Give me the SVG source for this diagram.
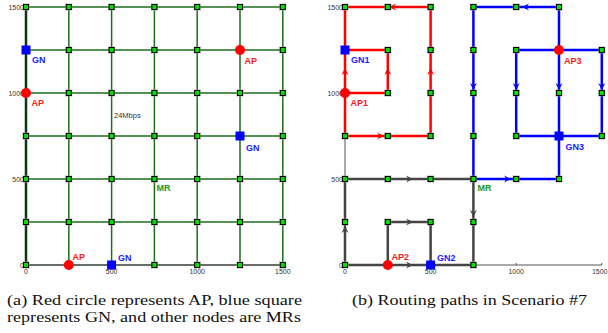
<svg xmlns="http://www.w3.org/2000/svg" xmlns:xlink="http://www.w3.org/1999/xlink" width="608" height="333" viewBox="0 0 608 333">
<style>
.grid{stroke:#1e6e1e;stroke-width:1.5;fill:none}
.axis{stroke:#555;stroke-width:1;fill:none}
.tick{font-family:"Liberation Sans",Arial,sans-serif;font-size:7px;fill:#333}
.lbl{font-family:"Liberation Sans",Arial,sans-serif;font-size:9px;font-weight:bold}
.ap{fill:#ff1a1a}.gn{fill:#1a1aff}.mr{fill:#229922}
.red{stroke:#ff0000;stroke-width:2.5;fill:none}
.blue{stroke:#0000ff;stroke-width:2.5;fill:none}
.gray{stroke:#444;stroke-width:2.5;fill:none}
.cap{font-family:"Liberation Serif","Times New Roman",serif;font-size:14px;fill:#111}
</style>
<defs>
<g id="n"><rect x="-3.5" y="-3.5" width="7" height="7" fill="#999" opacity="0.7"/><rect x="-2.5" y="-2.5" width="5" height="5" fill="#00e000" stroke="#000" stroke-width="1"/></g>
<rect id="sq" x="-4.5" y="-4.5" width="9" height="9" fill="#0000ff"/>
<circle id="ci" r="5" fill="#ff0000"/>
<path id="ar" d="M0,0 L-7,-3.5 L-4.5,0 L-7,3.5 Z"/>
</defs>

<!-- ============ LEFT PANEL ============ -->
<g id="left-grid">
<path class="grid" d="M26,7H282.8M26,50H282.8M26,93H282.8M26,136H282.8M26,179H282.8M26,222H282.8"/>
<path class="grid" d="M68.8,7V265M111.6,7V265M154.4,7V265M197.2,7V265M240,7V265M282.8,7V265"/>
<path d="M26,7V265" stroke="#123412" stroke-width="2.5"/>
<path d="M26,265H282.8" stroke="#7a857a" stroke-width="1.8"/>
<path class="axis" d="M26,265H282.8"/>
</g>
<g id="left-axis-labels" class="tick">
<text x="24" y="9.5" text-anchor="end">1500</text>
<text x="24" y="95.5" text-anchor="end">1000</text>
<text x="24" y="181.5" text-anchor="end">500</text>
<text x="24" y="267.5" text-anchor="end">0</text>
<text x="26" y="274" text-anchor="middle">0</text>
<text x="111.6" y="274" text-anchor="middle">500</text>
<text x="197.2" y="274" text-anchor="middle">1000</text>
<text x="282.8" y="274" text-anchor="middle">1500</text>
<text x="114" y="117.5" fill="#333" font-size="7.5">24Mbps</text>
</g>
<g id="left-nodes">
<g id="L00"><use xlink:href="#n" x="26" y="7"/></g>
<g id="L10"><use xlink:href="#n" x="68.8" y="7"/></g>
<g id="L20"><use xlink:href="#n" x="111.6" y="7"/></g>
<g id="L30"><use xlink:href="#n" x="154.4" y="7"/></g>
<g id="L40"><use xlink:href="#n" x="197.2" y="7"/></g>
<g id="L50"><use xlink:href="#n" x="240" y="7"/></g>
<g id="L60"><use xlink:href="#n" x="282.8" y="7"/></g>
<g id="L11"><use xlink:href="#n" x="68.8" y="50"/></g>
<g id="L21"><use xlink:href="#n" x="111.6" y="50"/></g>
<g id="L31"><use xlink:href="#n" x="154.4" y="50"/></g>
<g id="L41"><use xlink:href="#n" x="197.2" y="50"/></g>
<g id="L61"><use xlink:href="#n" x="282.8" y="50"/></g>
<g id="L12"><use xlink:href="#n" x="68.8" y="93"/></g>
<g id="L22"><use xlink:href="#n" x="111.6" y="93"/></g>
<g id="L32"><use xlink:href="#n" x="154.4" y="93"/></g>
<g id="L42"><use xlink:href="#n" x="197.2" y="93"/></g>
<g id="L52"><use xlink:href="#n" x="240" y="93"/></g>
<g id="L62"><use xlink:href="#n" x="282.8" y="93"/></g>
<g id="L03"><use xlink:href="#n" x="26" y="136"/></g>
<g id="L13"><use xlink:href="#n" x="68.8" y="136"/></g>
<g id="L23"><use xlink:href="#n" x="111.6" y="136"/></g>
<g id="L33"><use xlink:href="#n" x="154.4" y="136"/></g>
<g id="L43"><use xlink:href="#n" x="197.2" y="136"/></g>
<g id="L63"><use xlink:href="#n" x="282.8" y="136"/></g>
<g id="L04"><use xlink:href="#n" x="26" y="179"/></g>
<g id="L14"><use xlink:href="#n" x="68.8" y="179"/></g>
<g id="L24"><use xlink:href="#n" x="111.6" y="179"/></g>
<g id="L34"><use xlink:href="#n" x="154.4" y="179"/></g>
<g id="L44"><use xlink:href="#n" x="197.2" y="179"/></g>
<g id="L54"><use xlink:href="#n" x="240" y="179"/></g>
<g id="L64"><use xlink:href="#n" x="282.8" y="179"/></g>
<g id="L05"><use xlink:href="#n" x="26" y="222"/></g>
<g id="L15"><use xlink:href="#n" x="68.8" y="222"/></g>
<g id="L25"><use xlink:href="#n" x="111.6" y="222"/></g>
<g id="L35"><use xlink:href="#n" x="154.4" y="222"/></g>
<g id="L45"><use xlink:href="#n" x="197.2" y="222"/></g>
<g id="L55"><use xlink:href="#n" x="240" y="222"/></g>
<g id="L65"><use xlink:href="#n" x="282.8" y="222"/></g>
<g id="L06"><use xlink:href="#n" x="26" y="265"/></g>
<g id="L36"><use xlink:href="#n" x="154.4" y="265"/></g>
<g id="L46"><use xlink:href="#n" x="197.2" y="265"/></g>
<g id="L56"><use xlink:href="#n" x="240" y="265"/></g>
<g id="L66"><use xlink:href="#n" x="282.8" y="265"/></g>
<g id="L-GN-a"><use xlink:href="#sq" x="26" y="50"/><text class="lbl gn" x="32" y="63">GN</text></g>
<g id="L-AP-a"><use xlink:href="#ci" x="26" y="93"/><text class="lbl ap" x="31.5" y="106">AP</text></g>
<g id="L-AP-b"><use xlink:href="#ci" x="240" y="50"/><text class="lbl ap" x="244.5" y="64">AP</text></g>
<g id="L-GN-b"><use xlink:href="#sq" x="240" y="136"/><text class="lbl gn" x="246" y="150.5">GN</text></g>
<g id="L-AP-c"><use xlink:href="#ci" x="68.8" y="265"/><text class="lbl ap" x="72.5" y="259.5">AP</text></g>
<g id="L-GN-c"><use xlink:href="#sq" x="111.6" y="265"/><text class="lbl gn" x="118" y="260.5">GN</text></g>
<g id="L-MR"><text class="lbl mr" x="156.5" y="191">MR</text></g>
</g>

<!-- ============ RIGHT PANEL ============ -->
<g id="right-axes">
<path class="axis" d="M345,7V265H601.8"/>
<path class="axis" d="M430.6,265v-2M516.2,265v-2M601.8,265v-2"/>
</g>
<g id="right-axis-labels" class="tick">
<text x="343" y="9.5" text-anchor="end">1500</text>
<text x="343" y="95.5" text-anchor="end">1000</text>
<text x="343" y="181.5" text-anchor="end">500</text>
<text x="343" y="267.5" text-anchor="end">0</text>
<text x="345" y="274" text-anchor="middle">0</text>
<text x="430.6" y="274" text-anchor="middle">500</text>
<text x="516.2" y="274" text-anchor="middle">1000</text>
<text x="607.5" y="274" text-anchor="end">1500</text>
</g>
<g id="connectors">
<g id="red-paths">
<path class="red" d="M345,7V136H430.6V7H345"/>
<path class="red" d="M345,93H387.8V50H345"/>
<g fill="#ff0000">
<use xlink:href="#ar" transform="translate(384,136)"/>
<use xlink:href="#ar" transform="translate(389,7) rotate(180)"/>
<use xlink:href="#ar" transform="translate(345,68) rotate(-90)"/>
<use xlink:href="#ar" transform="translate(387.8,68) rotate(-90)"/>
<use xlink:href="#ar" transform="translate(430.6,68) rotate(-90)"/>
</g>
</g>
<g id="gray-paths">
<path class="gray" d="M387.8,265H345V179H473.4V265H430.6"/>
<path class="gray" d="M387.8,265H430.6"/>
<path class="gray" d="M387.8,265V222H430.6V265"/>
<g fill="#444">
<use xlink:href="#ar" transform="translate(345,226) rotate(-90)"/>
<use xlink:href="#ar" transform="translate(413,179)"/>
<use xlink:href="#ar" transform="translate(413,222)"/>
<use xlink:href="#ar" transform="translate(413,265)"/>
<use xlink:href="#ar" transform="translate(473.4,217) rotate(90)"/>
</g>
</g>
<g id="blue-paths">
<path class="blue" d="M559,50V7H473.4V179H559V136"/>
<path class="blue" d="M516.2,50H601.8V136H516.2Z"/>
<path class="blue" d="M559,50V136"/>
<g fill="#0000ff">
<use xlink:href="#ar" transform="translate(522,7) rotate(180)"/>
<use xlink:href="#ar" transform="translate(473.4,90) rotate(90)"/>
<use xlink:href="#ar" transform="translate(516.2,90) rotate(90)"/>
<use xlink:href="#ar" transform="translate(559,90) rotate(90)"/>
<use xlink:href="#ar" transform="translate(601.8,90) rotate(90)"/>
<use xlink:href="#ar" transform="translate(511,179)"/>
</g>
</g>
</g>
<g id="right-nodes">
<g id="R00"><use xlink:href="#n" x="345" y="7"/></g>
<g id="R10"><use xlink:href="#n" x="387.8" y="7"/></g>
<g id="R20"><use xlink:href="#n" x="430.6" y="7"/></g>
<g id="R11"><use xlink:href="#n" x="387.8" y="50"/></g>
<g id="R21"><use xlink:href="#n" x="430.6" y="50"/></g>
<g id="R12"><use xlink:href="#n" x="387.8" y="93"/></g>
<g id="R22"><use xlink:href="#n" x="430.6" y="93"/></g>
<g id="R03"><use xlink:href="#n" x="345" y="136"/></g>
<g id="R13"><use xlink:href="#n" x="387.8" y="136"/></g>
<g id="R23"><use xlink:href="#n" x="430.6" y="136"/></g>
<g id="R04"><use xlink:href="#n" x="345" y="179"/></g>
<g id="R14"><use xlink:href="#n" x="387.8" y="179"/></g>
<g id="R24"><use xlink:href="#n" x="430.6" y="179"/></g>
<g id="R05"><use xlink:href="#n" x="345" y="222"/></g>
<g id="R15"><use xlink:href="#n" x="387.8" y="222"/></g>
<g id="R25"><use xlink:href="#n" x="430.6" y="222"/></g>
<g id="R06"><use xlink:href="#n" x="345" y="265"/></g>
<g id="R30"><use xlink:href="#n" x="473.4" y="7"/></g>
<g id="R40"><use xlink:href="#n" x="516.2" y="7"/></g>
<g id="R50"><use xlink:href="#n" x="559" y="7"/></g>
<g id="R31"><use xlink:href="#n" x="473.4" y="50"/></g>
<g id="R41"><use xlink:href="#n" x="516.2" y="50"/></g>
<g id="R61"><use xlink:href="#n" x="601.8" y="50"/></g>
<g id="R32"><use xlink:href="#n" x="473.4" y="93"/></g>
<g id="R42"><use xlink:href="#n" x="516.2" y="93"/></g>
<g id="R52"><use xlink:href="#n" x="559" y="93"/></g>
<g id="R62"><use xlink:href="#n" x="601.8" y="93"/></g>
<g id="R33"><use xlink:href="#n" x="473.4" y="136"/></g>
<g id="R43"><use xlink:href="#n" x="516.2" y="136"/></g>
<g id="R63"><use xlink:href="#n" x="601.8" y="136"/></g>
<g id="R44"><use xlink:href="#n" x="516.2" y="179"/></g>
<g id="R54"><use xlink:href="#n" x="559" y="179"/></g>
<g id="R35"><use xlink:href="#n" x="473.4" y="222"/></g>
<g id="R36"><use xlink:href="#n" x="473.4" y="265"/></g>
<g id="R-MR"><use xlink:href="#n" x="473.4" y="179"/><text class="lbl mr" x="477.5" y="191">MR</text></g>
<g id="R-GN1"><use xlink:href="#sq" x="345" y="50"/><text class="lbl gn" x="351" y="63">GN1</text></g>
<g id="R-AP1"><use xlink:href="#ci" x="345" y="93"/><text class="lbl ap" x="350.5" y="106">AP1</text></g>
<g id="R-AP3"><use xlink:href="#ci" x="559" y="50"/><text class="lbl ap" x="564" y="64">AP3</text></g>
<g id="R-GN3"><use xlink:href="#sq" x="559" y="136"/><text class="lbl gn" x="565.5" y="149.5">GN3</text></g>
<g id="R-AP2"><use xlink:href="#ci" x="387.8" y="265"/><text class="lbl ap" x="391.5" y="259.5">AP2</text></g>
<g id="R-GN2"><use xlink:href="#sq" x="430.6" y="265"/><text class="lbl gn" x="437" y="260.5">GN2</text></g>
</g>

<!-- ============ CAPTIONS ============ -->
<g id="captions" class="cap">
<text x="7" y="305" textLength="295" lengthAdjust="spacingAndGlyphs">(a)  Red circle represents AP, blue square</text>
<text x="7" y="321.5" textLength="294" lengthAdjust="spacingAndGlyphs">represents GN, and other nodes are MRs</text>
<text x="352" y="305" textLength="235" lengthAdjust="spacingAndGlyphs">(b)  Routing paths in Scenario #7</text>
</g>
</svg>
